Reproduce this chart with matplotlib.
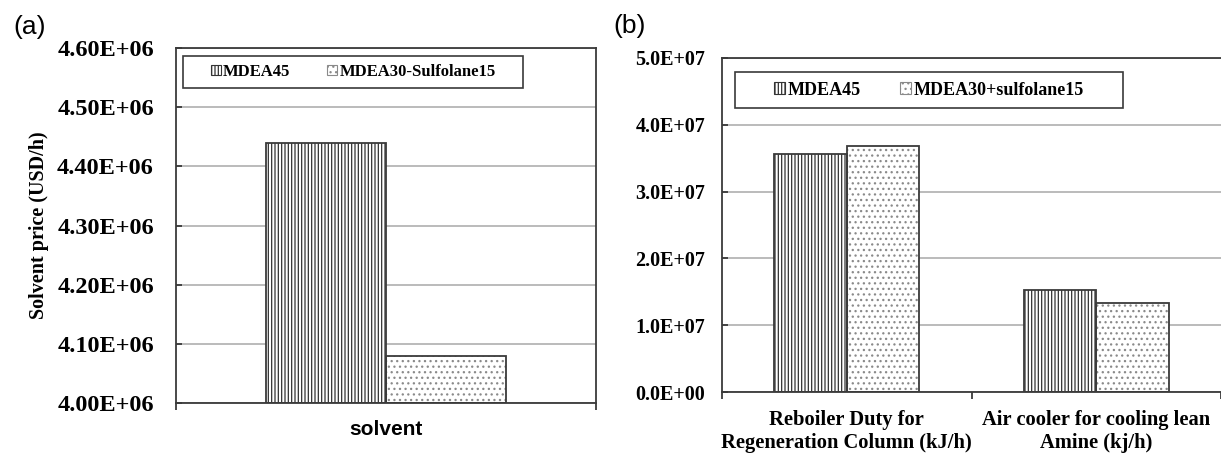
import matplotlib
matplotlib.use('Agg')
import matplotlib.pyplot as plt
from matplotlib.patches import Patch, Rectangle
import numpy as np

# ----------------------------------------------------------------------------
# DADOS
# ----------------------------------------------------------------------------
series_a = ['MDEA45', 'MDEA30-Sulfolane15']
categorias_a = ['solvent']
valores_a_mdea45 = [4.44e6]
valores_a_sulfolane = [4.08e6]
yticks_a = [4.0e6, 4.1e6, 4.2e6, 4.3e6, 4.4e6, 4.5e6, 4.6e6]

series_b = ['MDEA45', 'MDEA30+sulfolane15']
categorias_b = ['Reboiler Duty for\nRegeneration Column (kJ/h)',
                'Air cooler for cooling lean\nAmine (kj/h)']
valores_b_mdea45 = [3.57e7, 1.53e7]
valores_b_sulfolane = [3.69e7, 1.33e7]
yticks_b = [0.0, 1e7, 2e7, 3e7, 4e7, 5e7]

# ----------------------------------------------------------------------------
# ESTILO
# ----------------------------------------------------------------------------
plt.rcParams['hatch.linewidth'] = 0.9
serif = 'Liberation Serif'
sans = 'Liberation Sans'
cor_grade = '#a8a8a8'
cor_borda = '#3a3a3a'
estilos = [
    dict(hatch='|||||', hcolor='#333333'),
    dict(hatch='...', hcolor='#8a8a8a'),
]


def desenhar_barras(ax, x, valores, largura, estilo, base=0):
    # camada de hachura + contorno escuro por cima
    ax.bar(x, np.array(valores) - base, largura, bottom=base, color='white',
           edgecolor=estilo['hcolor'], hatch=estilo['hatch'], linewidth=0, zorder=2)
    ax.bar(x, np.array(valores) - base, largura, bottom=base, fill=False,
           edgecolor=cor_borda, linewidth=1.3, zorder=3)


def legenda(ax, nomes, caixa, fs):
    x0, y0, w, h = caixa
    ax.add_patch(Rectangle((x0, y0), w, h, transform=ax.transAxes, fill=False,
                           edgecolor=cor_borda, linewidth=1.2, zorder=5, clip_on=False))
    handles = [Patch(facecolor='white', edgecolor=e['hcolor'], hatch=e['hatch'],
                     linewidth=0.8) for e in estilos]
    ax.legend(handles, nomes, loc='center', bbox_to_anchor=(x0 + w / 2, y0 + h / 2),
              ncol=2, frameon=False, handlelength=0.6, handleheight=0.6,
              handletextpad=0.15, columnspacing=2.2,
              prop=dict(family=serif, weight='bold', size=fs))


def estilo_eixos(ax):
    ax.yaxis.grid(True, color=cor_grade, linewidth=1.1)
    ax.set_axisbelow(True)
    for s in ax.spines.values():
        s.set_color(cor_borda)
        s.set_linewidth(1.3)


fig = plt.figure(figsize=(12.21, 4.54), dpi=100)

# ----------------------------------------------------------------------------
# (a) Preço do solvente
# ----------------------------------------------------------------------------
ax1 = fig.add_axes([176 / 1221, 51 / 454, 420 / 1221, 355 / 454])
xa = np.arange(len(categorias_a))
la = 0.286
desenhar_barras(ax1, xa - la / 2, valores_a_mdea45, la, estilos[0], base=yticks_a[0])
desenhar_barras(ax1, xa + la / 2, valores_a_sulfolane, la, estilos[1], base=yticks_a[0])
ax1.set_ylim(yticks_a[0], yticks_a[-1])
ax1.set_xlim(-0.5, 0.5)
ax1.set_yticks(yticks_a)
ax1.set_yticklabels(['%.2fE+06' % (v / 1e6) for v in yticks_a],
                    family=serif, weight='bold', fontsize=17.5)
ax1.set_xticks(xa)
ax1.set_xticklabels(categorias_a, family=sans, weight='bold', fontsize=15)
ax1.set_xticks([-0.5, 0.5], minor=True)
ax1.tick_params(axis='x', which='major', length=0, pad=12)
ax1.tick_params(axis='x', which='minor', length=5, width=1.3, color=cor_borda)
ax1.tick_params(axis='y', direction='in', length=4, width=1.3, color=cor_borda, pad=16)
estilo_eixos(ax1)
ax1.set_ylabel('Solvent price (USD/h)', family=serif, weight='bold', fontsize=14.5,
               labelpad=6)
legenda(ax1, series_a, (0.017, 0.888, 0.81, 0.09), 12)
fig.text(13 / 1221, 1 - 27 / 454, '(a)', family=sans, fontsize=19, va='center', ha='left')

# ----------------------------------------------------------------------------
# (b) Energia
# ----------------------------------------------------------------------------
ax2 = fig.add_axes([722 / 1221, 62 / 454, 499 / 1221, 334 / 454])
xb = np.arange(len(categorias_b))
lb = 0.29
desenhar_barras(ax2, xb - lb / 2, valores_b_mdea45, lb, estilos[0])
desenhar_barras(ax2, xb + lb / 2, valores_b_sulfolane, lb, estilos[1])
ax2.set_ylim(yticks_b[0], yticks_b[-1])
ax2.set_xlim(-0.5, 1.5)
ax2.set_yticks(yticks_b)
ax2.set_yticklabels(['%.1fE+07' % (v / 1e7) if v else '0.0E+00' for v in yticks_b],
                    family=serif, weight='bold', fontsize=14.5)
ax2.set_xticks(xb)
ax2.set_xticklabels(categorias_b, family=serif, weight='bold', fontsize=14.8,
                    linespacing=1.2)
ax2.set_xticks([-0.5, 0.5, 1.5], minor=True)
ax2.tick_params(axis='x', which='major', length=0, pad=13)
ax2.tick_params(axis='x', which='minor', length=5, width=1.3, color=cor_borda)
ax2.tick_params(axis='y', direction='in', length=4, width=1.3, color=cor_borda, pad=12)
estilo_eixos(ax2)
ax2.spines['right'].set_visible(False)
legenda(ax2, series_b, (0.026, 0.85, 0.778, 0.108), 13)
fig.text(613 / 1221, 1 - 26 / 454, '(b)', family=sans, fontsize=19, va='center', ha='left')

fig.savefig('out.png', dpi=100)
